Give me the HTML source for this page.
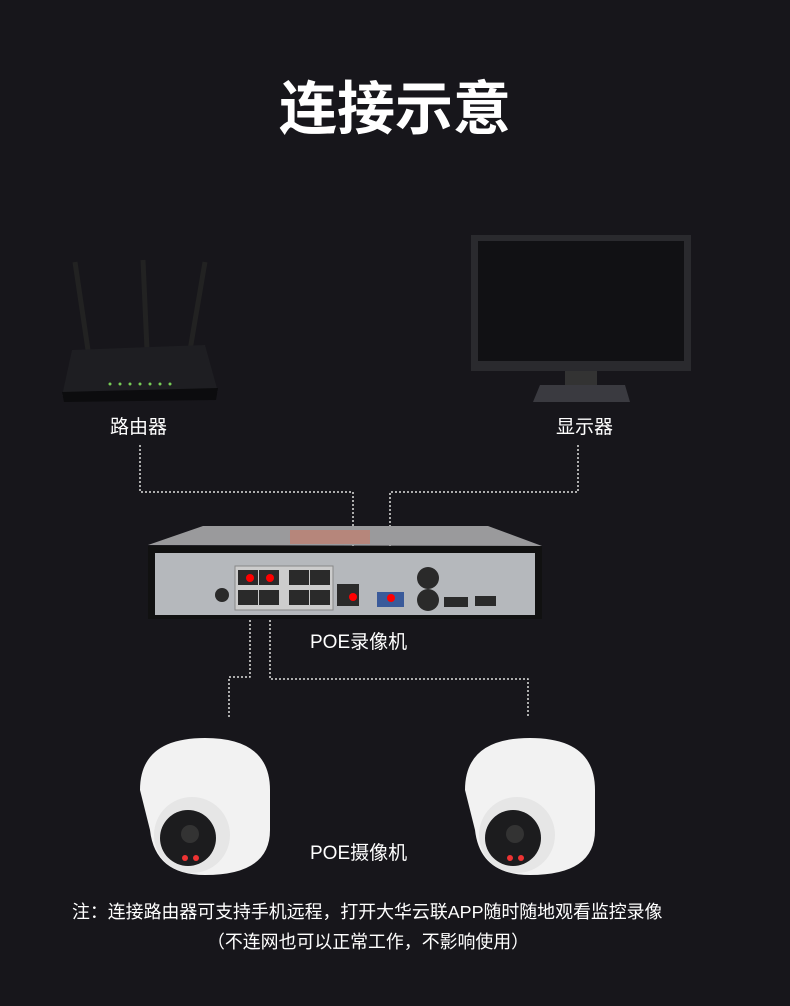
<!DOCTYPE html>
<html><head><meta charset="utf-8"><style>
body{margin:0;background:#17161b;}
.wrap{position:relative;width:790px;height:1006px;overflow:hidden;background:#17161b;font-family:"Liberation Sans","Noto Sans CJK SC",sans-serif;color:#fff}
.t{position:absolute;white-space:nowrap}
</style></head><body><div class="wrap">
<svg width="790" height="1006" style="position:absolute;left:0;top:0">
<g stroke="#ddd" stroke-width="1.5" stroke-dasharray="2,2" fill="none">
<polyline points="140,445 140,492 353,492 353,585"/>
<polyline points="578,445 578,492 390,492 390,598"/>
<polyline points="250,600 250,677 229,677 229,718"/>
<polyline points="270,600 270,679 528,679 528,718"/>
</g>
<g>
<line x1="75" y1="262" x2="88" y2="350" stroke="#222" stroke-width="5"/>
<line x1="143" y1="260" x2="147" y2="350" stroke="#222" stroke-width="5"/>
<line x1="205" y1="262" x2="190" y2="350" stroke="#222" stroke-width="5"/>
<polygon points="72,350 205,345 218,392 62,396" fill="#1e1e22"/>
<polygon points="62,392 218,388 216,400 64,402" fill="#0c0c0e"/>
<g fill="#7c5">
<circle cx="110" cy="384" r="1.5"/><circle cx="120" cy="384" r="1.5"/><circle cx="130" cy="384" r="1.5"/><circle cx="140" cy="384" r="1.5"/><circle cx="150" cy="384" r="1.5"/><circle cx="160" cy="384" r="1.5"/><circle cx="170" cy="384" r="1.5"/></g>
</g>
<rect x="471" y="235" width="220" height="136" fill="#2a2a2e"/>
<rect x="478" y="241" width="206" height="120" fill="#111114"/>
<rect x="565" y="371" width="32" height="14" fill="#333"/>
<polygon points="540,385 625,385 630,402 533,402" fill="#3a3a40"/>
<polygon points="148,545 203,526 488,526 542,546" fill="#9a9a9c"/>
<rect x="290" y="530" width="80" height="14" fill="#c97a66" opacity=".6"/>
<rect x="148" y="546" width="394" height="73" fill="#111"/>
<rect x="155" y="553" width="380" height="62" fill="#b5b8bc"/>
<rect x="235" y="566" width="98" height="44" fill="#ccc" stroke="#888"/>
<g fill="#2a2a2a">
<rect x="238" y="570" width="20" height="15"/><rect x="259" y="570" width="20" height="15"/><rect x="289" y="570" width="20" height="15"/><rect x="310" y="570" width="20" height="15"/>
<rect x="238" y="590" width="20" height="15"/><rect x="259" y="590" width="20" height="15"/><rect x="289" y="590" width="20" height="15"/><rect x="310" y="590" width="20" height="15"/>
<rect x="337" y="584" width="22" height="22"/>
<circle cx="222" cy="595" r="7"/>
<circle cx="428" cy="578" r="11"/><circle cx="428" cy="600" r="11"/>
<rect x="444" y="597" width="24" height="10"/><rect x="475" y="596" width="21" height="10"/>
</g>
<rect x="377" y="592" width="27" height="15" fill="#3a5a9a"/>
<g fill="#f00"><circle cx="250" cy="578" r="4"/><circle cx="270" cy="578" r="4"/><circle cx="353" cy="597" r="4"/><circle cx="391" cy="598" r="4"/></g>
<g id="cam">
<path d="M140,790 Q140,738 205,738 Q270,738 270,790 L270,830 Q270,875 205,875 Q155,875 150,830 Z" fill="#f2f2f2"/>
<circle cx="192" cy="835" r="38" fill="#e6e6e6"/>
<circle cx="188" cy="838" r="28" fill="#1c1c1e"/>
<circle cx="190" cy="834" r="9" fill="#333"/>
<circle cx="185" cy="858" r="3" fill="#e33"/><circle cx="196" cy="858" r="3" fill="#e33"/>
</g>
<use href="#cam" x="325"/>
</svg>
<div class="t" style="left:0;width:790px;text-align:center;top:62px;font-size:58px;font-weight:bold;">连接示意</div>
<div class="t" style="left:110px;top:412px;font-size:19px">路由器</div>
<div class="t" style="left:556px;top:412px;font-size:19px">显示器</div>
<div class="t" style="left:310px;top:627px;font-size:19px">POE录像机</div>
<div class="t" style="left:310px;top:838px;font-size:19px">POE摄像机</div>
<div class="t" style="left:72px;top:898px;font-size:17.9px">注：连接路由器可支持手机远程，打开大华云联APP随时随地观看监控录像</div>
<div class="t" style="left:207px;top:928px;font-size:17.9px">（不连网也可以正常工作，不影响使用）</div>
</div></body></html>
